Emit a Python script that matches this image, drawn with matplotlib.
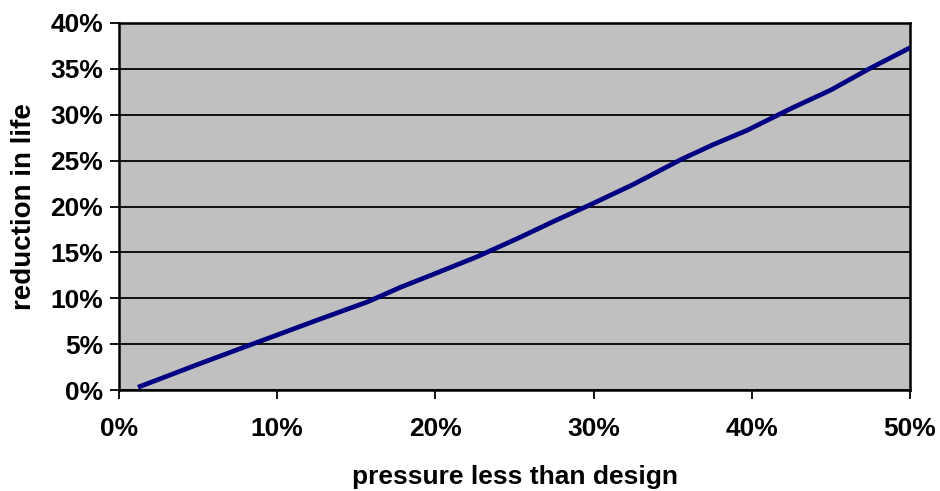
import matplotlib
matplotlib.use("Agg")
import matplotlib.pyplot as plt
from matplotlib.ticker import FuncFormatter, MultipleLocator

# pressure shortfall vs. design (%) and the resulting loss of service life (%)
pressure_drop = [1.2, 5.0, 7.8, 10.0, 12.5, 15.7, 17.8, 20.0, 22.6, 25.3,
                 27.5, 29.8, 32.5, 35.5, 37.5, 39.7, 42.5, 45.0, 47.3, 50.0]
life_reduction = [0.3, 2.8, 4.6, 6.0, 7.6, 9.6, 11.2, 12.7, 14.5, 16.6,
                  18.4, 20.2, 22.4, 25.1, 26.7, 28.3, 30.7, 32.7, 34.9, 37.3]

plt.rcParams["font.family"] = ["Liberation Sans", "DejaVu Sans"]
plt.rcParams["font.weight"] = "bold"

fig = plt.figure(figsize=(9.4, 4.91), dpi=100)
ax = fig.add_axes([119 / 940, 1 - 390 / 491, 791 / 940, 367 / 491])
ax.set_facecolor("#c0c0c0")

ax.plot(pressure_drop, life_reduction, color="#000080", lw=3.4,
        solid_capstyle="butt", zorder=3)

ax.set_xlim(0, 50)
ax.set_ylim(0, 40)
ax.xaxis.set_major_locator(MultipleLocator(10))
ax.yaxis.set_major_locator(MultipleLocator(5))
pct = FuncFormatter(lambda v, _: f"{v:.0f}%")
ax.xaxis.set_major_formatter(pct)
ax.yaxis.set_major_formatter(pct)

ax.grid(axis="y", color="black", lw=1.3, zorder=1)
ax.set_axisbelow(True)
for s in ax.spines.values():
    s.set_color("black")
    s.set_linewidth(1.8)

ax.tick_params(axis="both", direction="out", length=6.5, width=1.3,
               color="black", labelsize=19)
ax.tick_params(axis="x", pad=13)
ax.tick_params(axis="y", pad=5)

ax.set_xlabel("pressure less than design", fontsize=19, fontweight="bold",
              va="center")
ax.xaxis.set_label_coords(0.5, -0.237)
ax.set_ylabel("reduction in life", fontsize=20, fontweight="bold",
              va="center")
ax.yaxis.set_label_coords(-0.12, 0.5)

fig.savefig("out.png", dpi=100, facecolor="white")
